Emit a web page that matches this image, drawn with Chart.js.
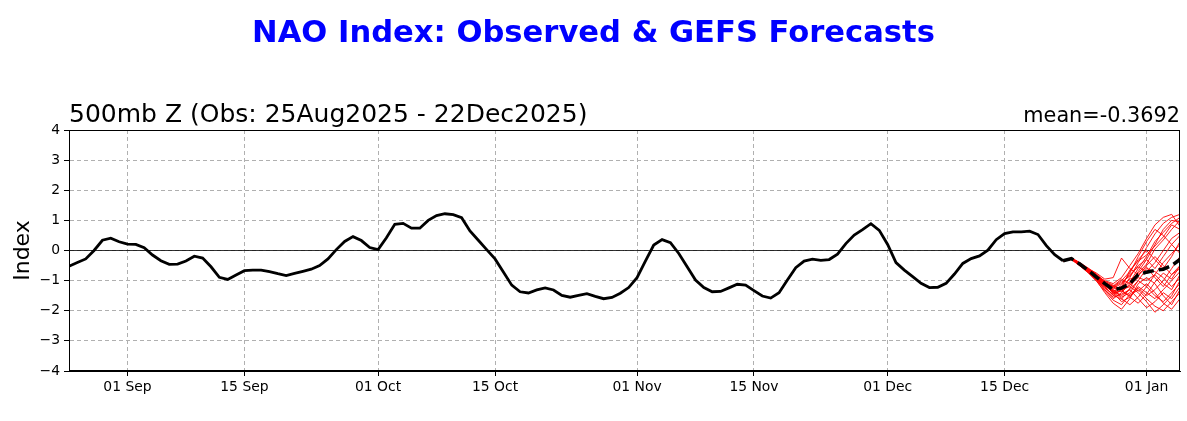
<!DOCTYPE html>
<html>
<head>
<meta charset="utf-8">
<title>NAO Index</title>
<script src="https://cdn.jsdelivr.net/npm/chart.js@4.4.1/dist/chart.umd.min.js"></script>
<style>
  html, body { margin: 0; padding: 0; background: #ffffff; }
  #wrap { width: 1187px; height: 421px; position: relative; }
</style>
</head>
<body>
<div id="wrap"><canvas id="naoChart" width="1187" height="421"></canvas></div>
<script>
// days counted from 25 Aug 2025
const xMin = 0;
const xMax = 133;
const tickDays = [7, 21, 37, 51, 68, 82, 98, 112, 129];
const tickLabels = ['01 Sep', '15 Sep', '01 Oct', '15 Oct', '01 Nov', '15 Nov', '01 Dec', '15 Dec', '01 Jan'];
const yTicks = [-4, -3, -2, -1, 0, 1, 2, 3, 4];

// observed daily index, 25 Aug .. 22 Dec
const obsValues = [
  -0.52, -0.40, -0.28, 0.00, 0.34, 0.41, 0.29, 0.21, 0.20, 0.09,
  -0.15, -0.34, -0.46, -0.45, -0.35, -0.19, -0.25, -0.54, -0.89, -0.96,
  -0.81, -0.67, -0.65, -0.65, -0.70, -0.77, -0.83, -0.76, -0.69, -0.62,
  -0.50, -0.28, 0.03, 0.30, 0.46, 0.33, 0.10, 0.03, 0.42, 0.87,
  0.90, 0.74, 0.74, 1.00, 1.16, 1.22, 1.19, 1.09, 0.65, 0.34,
  0.03, -0.28, -0.71, -1.15, -1.37, -1.41, -1.31, -1.24, -1.31, -1.49,
  -1.55, -1.49, -1.43, -1.52, -1.60, -1.56, -1.42, -1.23, -0.90, -0.35,
  0.18, 0.36, 0.26, -0.10, -0.54, -0.98, -1.23, -1.37, -1.36, -1.24,
  -1.12, -1.15, -1.33, -1.51, -1.58, -1.40, -0.98, -0.57, -0.35, -0.29,
  -0.33, -0.30, -0.12, 0.23, 0.51, 0.69, 0.89, 0.67, 0.20, -0.40,
  -0.65, -0.87, -1.09, -1.23, -1.22, -1.09, -0.78, -0.43, -0.27, -0.18,
  0.01, 0.36, 0.56, 0.62, 0.62, 0.64, 0.53, 0.16, -0.14, -0.34
];

// GEFS forecast, daily from 22 Dec
const fcstStartDay = 119;
const fcstMean = [-0.34, -0.27, -0.45, -0.66, -0.88, -1.10, -1.30, -1.25, -1.10, -0.80, -0.72, -0.66, -0.62, -0.50, -0.30];

const members = [
  [-0.34, -0.28, -0.48, -0.70, -0.95, -1.25, -1.45, -1.30, -0.90, -0.40, 0.10, 0.55, 0.90, 1.10, 1.20],
  [-0.34, -0.25, -0.42, -0.62, -0.80, -1.05, -1.20, -1.35, -1.50, -1.30, -1.60, -1.85, -2.00, -1.70, -1.40],
  [-0.34, -0.30, -0.50, -0.72, -0.98, -1.30, -1.60, -1.40, -1.10, -0.70, -0.30, 0.20, 0.70, 1.00, 0.95],
  [-0.34, -0.27, -0.44, -0.60, -0.75, -0.95, -0.90, -0.25, -0.60, -0.80, -0.55, -0.90, -1.20, -0.80, -0.50],
  [-0.34, -0.26, -0.46, -0.68, -0.90, -1.15, -1.40, -1.70, -1.55, -1.20, -1.40, -1.60, -1.30, -1.00, -0.70],
  [-0.34, -0.29, -0.47, -0.66, -0.85, -1.00, -1.10, -0.90, -0.50, -0.10, 0.40, 0.85, 1.10, 1.20, 0.80],
  [-0.34, -0.24, -0.40, -0.58, -0.78, -1.05, -1.35, -1.60, -1.80, -1.55, -1.20, -0.80, -0.40, -0.10, 0.20],
  [-0.34, -0.28, -0.49, -0.73, -1.00, -1.40, -1.75, -1.95, -1.60, -1.10, -0.90, -1.10, -1.50, -1.80, -1.30],
  [-0.34, -0.26, -0.43, -0.64, -0.86, -1.10, -1.25, -1.10, -0.80, -0.55, -0.70, -0.40, 0.00, 0.40, 0.60],
  [-0.34, -0.27, -0.45, -0.67, -0.92, -1.20, -1.50, -1.30, -1.20, -1.40, -1.70, -2.05, -1.80, -1.50, -1.00],
  [-0.34, -0.25, -0.44, -0.65, -0.84, -1.05, -1.20, -1.00, -0.70, -0.30, 0.00, -0.30, -0.60, -0.20, 0.30],
  [-0.34, -0.29, -0.48, -0.71, -0.96, -1.30, -1.55, -1.45, -1.30, -1.00, -0.60, -0.70, -0.90, -1.20, -0.90],
  [-0.34, -0.27, -0.46, -0.69, -0.93, -1.18, -1.35, -1.25, -1.05, -0.60, -0.20, 0.30, 0.60, 0.90, 1.10],
  [-0.34, -0.26, -0.41, -0.60, -0.82, -1.08, -1.30, -1.55, -1.40, -1.00, -1.20, -1.50, -1.70, -1.40, -1.10],
  [-0.34, -0.28, -0.47, -0.68, -0.90, -1.15, -1.28, -1.20, -0.95, -0.85, -0.50, -0.20, -0.50, -0.80, -0.60],
  [-0.34, -0.30, -0.51, -0.74, -1.02, -1.35, -1.65, -1.80, -1.45, -1.25, -1.50, -1.30, -1.00, -0.60, -0.20],
  [-0.34, -0.25, -0.43, -0.63, -0.85, -1.12, -1.38, -1.15, -0.75, -0.20, 0.30, 0.70, 0.50, 0.20, -0.10],
  [-0.34, -0.27, -0.45, -0.66, -0.88, -1.12, -1.32, -1.50, -1.30, -1.60, -1.90, -1.70, -1.40, -1.60, -1.20],
  [-0.34, -0.26, -0.44, -0.65, -0.87, -1.10, -1.22, -1.05, -0.85, -0.50, -0.30, -0.60, -0.20, 0.20, 0.50],
  [-0.34, -0.28, -0.46, -0.68, -0.91, -1.16, -1.40, -1.35, -1.15, -0.90, -1.00, -0.80, -1.10, -1.30, -0.80],
  [-0.34, -0.27, -0.47, -0.70, -0.94, -1.22, -1.48, -1.62, -1.25, -0.75, -0.45, 0.05, 0.35, 0.70, 1.00],
  [-0.34, -0.26, -0.45, -0.66, -0.86, -1.08, -1.18, -0.95, -1.10, -1.35, -1.10, -1.40, -1.75, -1.95, -1.60],
  [-0.34, -0.28, -0.46, -0.67, -0.89, -1.14, -1.42, -1.25, -0.65, -0.35, -0.15, 0.15, 0.45, 0.85, 0.70],
  [-0.34, -0.25, -0.42, -0.61, -0.80, -1.02, -1.15, -1.30, -1.55, -1.75, -1.45, -1.05, -0.75, -0.95, -0.50]
];

const titleText = 'NAO Index: Observed & GEFS Forecasts';
const leftText = '500mb Z (Obs: 25Aug2025 - 22Dec2025)';
const rightText = 'mean=-0.3692';

const FONT = "'DejaVu Sans', sans-serif";

function toPoints(values, startDay) {
    return values.map(function(v, i) { return { x: startDay + i, y: v }; });
}

document.addEventListener('DOMContentLoaded', function() {
    const canvas = document.getElementById('naoChart');
    if (!canvas || typeof Chart === 'undefined') {
        console.error('Chart.js atau canvas tidak ditemukan');
        return;
    }

    // titles above the axes + the top/right frame lines
    const headerPlugin = {
        id: 'header',
        afterDraw: function(chart) {
            const ctx = chart.ctx;
            const area = chart.chartArea;
            ctx.save();
            ctx.strokeStyle = '#000000';
            ctx.lineWidth = 1;
            ctx.strokeRect(area.left + 0.5, area.top + 0.5, area.right - area.left - 1, area.bottom - area.top - 1);

            ctx.fillStyle = '#0000ff';
            ctx.font = 'bold 30.6px ' + FONT;
            ctx.textAlign = 'center';
            ctx.textBaseline = 'alphabetic';
            ctx.fillText(titleText, chart.width / 2, 42);

            ctx.fillStyle = '#000000';
            ctx.font = '25px ' + FONT;
            ctx.textAlign = 'left';
            ctx.fillText(leftText, area.left, 122);

            ctx.font = '20.8px ' + FONT;
            ctx.textAlign = 'right';
            ctx.fillText(rightText, area.right, 122);
            ctx.restore();
        }
    };

    const datasets = [];
    datasets.push({
        label: 'Observed',
        data: toPoints(obsValues, 0),
        borderColor: '#000000',
        borderWidth: 2.8,
        pointRadius: 0,
        order: 0
    });
    datasets.push({
        label: 'GEFS mean',
        data: toPoints(fcstMean, fcstStartDay),
        borderColor: '#000000',
        borderWidth: 3.5,
        borderDash: [11, 5],
        pointRadius: 0,
        order: 1
    });
    members.forEach(function(m, i) {
        datasets.push({
            label: 'Member ' + (i + 1),
            data: toPoints(m, fcstStartDay),
            borderColor: 'rgba(255, 0, 0, 0.9)',
            borderWidth: 1,
            pointRadius: 0,
            order: 2
        });
    });
    datasets.push({
        label: 'zero',
        data: [{ x: xMin, y: 0 }, { x: xMax, y: 0 }],
        borderColor: '#000000',
        borderWidth: 0.8,
        pointRadius: 0,
        order: 3
    });

    try {
        new Chart(canvas.getContext('2d'), {
            type: 'line',
            data: { datasets: datasets },
            options: {
                responsive: false,
                animation: false,
                devicePixelRatio: 1,
                layout: { padding: { top: 130, right: 7, left: 0, bottom: 0 } },
                scales: {
                    x: {
                        type: 'linear',
                        min: xMin,
                        max: xMax,
                        afterBuildTicks: function(axis) {
                            axis.ticks = tickDays.map(function(d) { return { value: d }; });
                        },
                        afterFit: function(axis) { axis.height = 50; },
                        ticks: {
                            autoSkip: false,
                            maxRotation: 0,
                            padding: 3,
                            color: '#000000',
                            font: { family: FONT, size: 13.9 },
                            callback: function(value) {
                                const i = tickDays.indexOf(value);
                                return i >= 0 ? tickLabels[i] : '';
                            }
                        },
                        grid: {
                            color: '#b0b0b0',
                            lineWidth: 1,
                            tickLength: 5,
                            tickColor: '#000000',
                            tickWidth: 1,
                            tickBorderDash: []
                        },
                        border: { display: true, color: '#000000', width: 1, dash: [4, 3] }
                    },
                    y: {
                        type: 'linear',
                        min: -4,
                        max: 4,
                        afterBuildTicks: function(axis) {
                            axis.ticks = yTicks.map(function(v) { return { value: v }; });
                        },
                        afterFit: function(axis) { axis.width = 69; },
                        ticks: {
                            padding: 4,
                            color: '#000000',
                            font: { family: FONT, size: 13.9 },
                            callback: function(value) {
                                return value < 0 ? '\u2212' + Math.abs(value) : String(value);
                            }
                        },
                        grid: {
                            color: '#b0b0b0',
                            lineWidth: 1,
                            tickLength: 5,
                            tickColor: '#000000',
                            tickWidth: 1,
                            tickBorderDash: []
                        },
                        border: { display: true, color: '#000000', width: 1, dash: [4, 3] },
                        title: {
                            display: true,
                            text: 'Index',
                            color: '#000000',
                            font: { family: FONT, size: 22 },
                            padding: { top: 10, bottom: 0 }
                        }
                    }
                },
                plugins: {
                    legend: { display: false },
                    title: { display: false },
                    tooltip: { enabled: false }
                }
            },
            plugins: [headerPlugin]
        });
    } catch (error) {
        console.error('Error membuat chart:', error);
    }
});
</script>
</body>
</html>
